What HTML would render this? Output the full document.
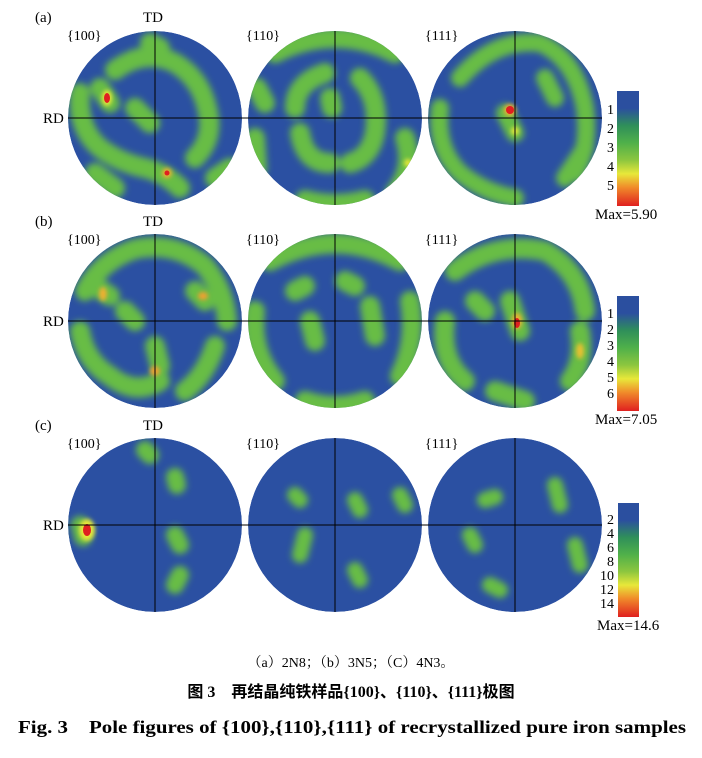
<!DOCTYPE html>
<html><head><meta charset="utf-8"><style>
body{margin:0;background:#fff;width:702px;height:758px;overflow:hidden}
svg{display:block}
text{font-family:"Liberation Serif","Noto Serif CJK SC",serif;fill:#000}
</style></head><body>
<svg width="702" height="758" viewBox="0 0 702 758">
<defs>
<filter id="b" x="-50%" y="-50%" width="200%" height="200%"><feGaussianBlur stdDeviation="3.5"/></filter>
<filter id="b2" x="-50%" y="-50%" width="200%" height="200%"><feGaussianBlur stdDeviation="2"/></filter>
<clipPath id="c"><circle cx="0" cy="0" r="87"/></clipPath>
<linearGradient id="cb" x1="0" y1="0" x2="0" y2="1">
<stop offset="0" stop-color="#2b4f9f"/><stop offset="0.15" stop-color="#2b4f9f"/><stop offset="0.3" stop-color="#2f8f5a"/><stop offset="0.45" stop-color="#4fb04a"/><stop offset="0.6" stop-color="#8cc63f"/><stop offset="0.72" stop-color="#e8e83a"/><stop offset="0.84" stop-color="#f08a2a"/><stop offset="1" stop-color="#e02020"/>
</linearGradient>
</defs>
<g stroke-linecap="round" fill="none">
<g transform="translate(155,118)" clip-path="url(#c)">
<circle r="87" fill="#2b50a2"/>
<g stroke="#68bd45" stroke-width="20" filter="url(#b)">
<path d="M-40,-48 Q-10,-70 20,-55 Q45,-40 52,-10 Q60,20 40,40"/>
<path d="M-75,-25 Q-78,10 -55,30 Q-35,45 -10,50 Q10,55 25,70"/>
<path d="M-55,-30 L-45,-15"/><path d="M-20,-10 L-5,5"/><path d="M-60,55 L-40,70"/><path d="M60,60 L75,50"/><path d="M-5,-75 L5,-70"/>
</g>
<ellipse cx="-48" cy="-20" rx="5" ry="8" fill="#e8e83a" filter="url(#b2)"/>
<ellipse cx="-48" cy="-20" rx="3" ry="5" fill="#e02020"/>
<circle cx="12" cy="55" r="5" fill="#f0b030" filter="url(#b2)"/><circle cx="12" cy="55" r="2.5" fill="#e02020"/>
</g>
<g transform="translate(335,118)" clip-path="url(#c)">
<circle r="87" fill="#2b50a2"/>
<g stroke="#68bd45" stroke-width="20" filter="url(#b)">
<path d="M-40,-10 Q-40,-35 -10,-45"/><path d="M-35,15 Q-30,45 -5,45"/><path d="M25,-40 Q45,-20 40,15 Q35,40 15,45"/>
<path d="M-60,-65 Q0,-95 60,-65"/><path d="M70,20 Q80,50 60,75"/><path d="M-80,20 L-78,50"/><path d="M-30,82 Q0,90 30,82"/>
<path d="M-5,-20 L-3,-10"/><path d="M-78,-30 L-70,-15"/>
</g>
<circle cx="73" cy="45" r="4" fill="#e8e83a" filter="url(#b2)"/>
</g>
<g transform="translate(515,118)" clip-path="url(#c)">
<circle r="87" fill="#2b50a2"/>
<g stroke="#68bd45" stroke-width="18" filter="url(#b)">
<path d="M-55,-40 Q-20,-80 25,-75 Q60,-60 70,-10 Q75,30 60,55"/>
<path d="M-75,-10 Q-80,30 -55,55 Q-30,75 0,80"/>
<path d="M-10,-5 L0,15"/><path d="M50,60 L70,30"/><path d="M30,-40 L40,-20"/>
</g>
<circle cx="-5" cy="-8" r="6" fill="#f0b030" filter="url(#b2)"/><circle cx="-5" cy="-8" r="4" fill="#e02020"/>
<circle cx="0" cy="13" r="4" fill="#e8e83a" filter="url(#b2)"/>
</g>
<g transform="translate(155,321)" clip-path="url(#c)">
<circle r="87" fill="#2b50a2"/>
<g stroke="#68bd45" stroke-width="20" filter="url(#b)">
<path d="M-70,-30 Q-55,-60 -20,-72 Q20,-80 50,-55 Q70,-30 72,0"/>
<path d="M-75,10 Q-70,40 -45,55 Q-20,75 5,60"/>
<path d="M60,25 Q50,55 30,70"/><path d="M-60,-35 L-45,-25"/><path d="M40,-30 L50,-20"/><path d="M0,25 L5,45"/><path d="M-30,-10 L-20,0"/>
</g>
<ellipse cx="-52" cy="-27" rx="4" ry="7" fill="#f0b030" filter="url(#b2)"/>
<ellipse cx="48" cy="-25" rx="5" ry="4" fill="#f0a030" filter="url(#b2)"/>
<circle cx="0" cy="50" r="5" fill="#f0a030" filter="url(#b2)"/>
</g>
<g transform="translate(335,321)" clip-path="url(#c)">
<circle r="87" fill="#2b50a2"/>
<g stroke="#68bd45" stroke-width="20" filter="url(#b)">
<path d="M-65,-60 Q0,-95 65,-60"/><path d="M-80,-10 Q-85,30 -60,60"/><path d="M75,-20 Q82,20 65,55"/>
<path d="M-25,0 L-20,20"/><path d="M35,-15 L40,15"/><path d="M-30,80 Q0,90 30,80"/><path d="M-40,-30 L-30,-35"/><path d="M10,-40 L20,-35"/>
</g>
</g>
<g transform="translate(515,321)" clip-path="url(#c)">
<circle r="87" fill="#2b50a2"/>
<g stroke="#68bd45" stroke-width="20" filter="url(#b)">
<path d="M-60,-50 Q-20,-80 30,-70 Q65,-50 70,-10"/>
<path d="M-70,0 Q-75,40 -50,60"/><path d="M65,10 Q70,40 55,60"/><path d="M-5,-20 L5,10"/><path d="M-20,70 L10,80"/><path d="M-40,-20 L-30,-10"/>
</g>
<ellipse cx="2" cy="0" rx="5" ry="8" fill="#f0b030" filter="url(#b2)"/><ellipse cx="2" cy="2" rx="3" ry="5" fill="#e02020"/>
<ellipse cx="65" cy="30" rx="4" ry="8" fill="#e8c030" filter="url(#b2)"/>
</g>
<g transform="translate(155,525)" clip-path="url(#c)">
<circle r="87" fill="#2b50a2"/>
<g stroke="#68bd45" stroke-width="18" filter="url(#b)">
<path d="M20,-48 L22,-40"/><path d="M20,10 L25,20"/><path d="M25,50 L20,60"/><path d="M-10,-75 L-5,-70"/><path d="M-75,0 L-72,12"/>
</g>
<ellipse cx="-68" cy="5" rx="8" ry="11" fill="#e8e83a" filter="url(#b2)"/><ellipse cx="-68" cy="5" rx="4" ry="6" fill="#e02020"/>
</g>
<g transform="translate(335,525)" clip-path="url(#c)">
<circle r="87" fill="#2b50a2"/>
<g stroke="#68bd45" stroke-width="16" filter="url(#b)">
<path d="M-40,-30 L-35,-25"/><path d="M-30,10 L-35,30"/><path d="M20,-25 L25,-15"/><path d="M20,45 L25,55"/><path d="M65,-30 L70,-20"/>
</g>
</g>
<g transform="translate(515,525)" clip-path="url(#c)">
<circle r="87" fill="#2b50a2"/>
<g stroke="#68bd45" stroke-width="16" filter="url(#b)">
<path d="M-30,-25 L-20,-28"/><path d="M40,-40 L45,-20"/><path d="M-45,10 L-40,20"/><path d="M60,20 L65,40"/><path d="M-25,60 L-15,65"/>
</g>
</g>
</g>
<g stroke="#000" stroke-width="1">
<line x1="68" y1="118" x2="602" y2="118"/><line x1="155" y1="31" x2="155" y2="205"/><line x1="335" y1="31" x2="335" y2="205"/><line x1="515" y1="31" x2="515" y2="205"/>
<line x1="68" y1="321" x2="602" y2="321"/><line x1="155" y1="234" x2="155" y2="408"/><line x1="335" y1="234" x2="335" y2="408"/><line x1="515" y1="234" x2="515" y2="408"/>
<line x1="68" y1="525" x2="602" y2="525"/><line x1="155" y1="438" x2="155" y2="612"/><line x1="335" y1="438" x2="335" y2="612"/><line x1="515" y1="438" x2="515" y2="612"/>
</g>
<g font-size="15">
<text x="35" y="22">(a)</text><text x="143" y="22">TD</text><text x="43" y="123">RD</text>
<text x="35" y="226">(b)</text><text x="143" y="226">TD</text><text x="43" y="326">RD</text>
<text x="35" y="430">(c)</text><text x="143" y="430">TD</text><text x="43" y="530">RD</text>
</g>
<g font-size="14">
<text x="67" y="40">{100}</text><text x="246" y="40">{110}</text><text x="425" y="40">{111}</text>
<text x="67" y="244">{100}</text><text x="246" y="244">{110}</text><text x="425" y="244">{111}</text>
<text x="67" y="448">{100}</text><text x="246" y="448">{110}</text><text x="425" y="448">{111}</text>
</g>
<rect x="617" y="91" width="22" height="115" fill="url(#cb)"/>
<rect x="617" y="296" width="22" height="115" fill="url(#cb)"/>
<rect x="618" y="503" width="21" height="114" fill="url(#cb)"/>
<g font-size="14" text-anchor="end">
<text x="614" y="114">1</text><text x="614" y="133">2</text><text x="614" y="152">3</text><text x="614" y="171">4</text><text x="614" y="190">5</text>
<text x="614" y="318">1</text><text x="614" y="334">2</text><text x="614" y="350">3</text><text x="614" y="366">4</text><text x="614" y="382">5</text><text x="614" y="398">6</text>
<text x="614" y="524">2</text><text x="614" y="538">4</text><text x="614" y="552">6</text><text x="614" y="566">8</text><text x="614" y="580">10</text><text x="614" y="594">12</text><text x="614" y="608">14</text>
</g>
<g font-size="15">
<text x="595" y="219">Max=5.90</text><text x="595" y="424">Max=7.05</text><text x="597" y="630">Max=14.6</text>
</g>
<text x="351" y="667" font-size="14" text-anchor="middle">（a）2N8；（b）3N5；（C）4N3。</text>
<text x="351" y="697" font-size="16" font-weight="bold" text-anchor="middle" style="font-family:'Liberation Serif','Noto Sans CJK SC',sans-serif">图 3　再结晶纯铁样品{100}、{110}、{111}极图</text>
<text x="18" y="733" font-size="18" font-weight="bold" textLength="668" lengthAdjust="spacingAndGlyphs">Fig. 3　Pole figures of {100},{110},{111} of recrystallized pure iron samples</text>
</svg>
</body></html>
